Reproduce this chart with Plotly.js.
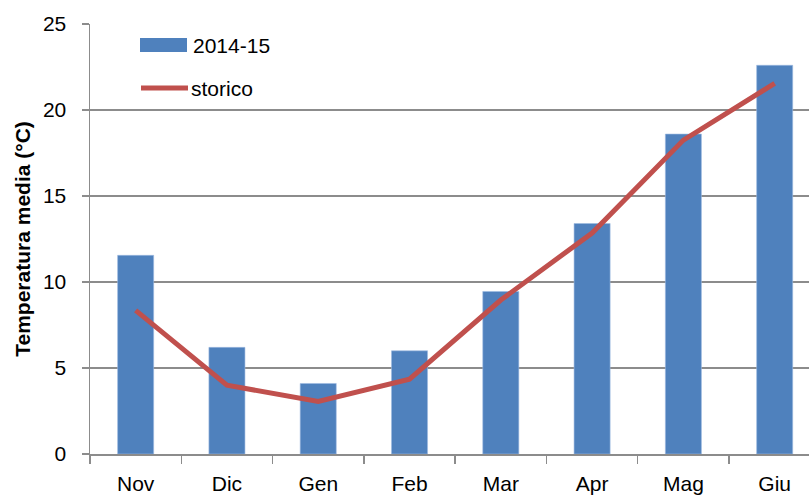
<!DOCTYPE html>
<html>
<head>
<meta charset="utf-8">
<script src="https://cdn.plot.ly/plotly-3.0.1.min.js"></script>
<style>html,body{margin:0;padding:0;background:#fff;}#chart{width:809px;height:495px;}</style>
</head>
<body>
<div id="chart"></div>
<script>
const months = ["Nov", "Dic", "Gen", "Feb", "Mar", "Apr", "Mag", "Giu"];
const season2014_15 = [11.55, 6.2, 4.1, 6.0, 9.45, 13.4, 18.6, 22.6];
const storico = [8.35, 4.0, 3.05, 4.35, 8.95, 12.85, 18.25, 21.55];
const seriesNames = ["2014-15", "storico"];
const yTicks = [0, 5, 10, 15, 20, 25];

const W = 809, H = 495;
const mL = 90, mR = 0, mT = 24, mB = 41;
const pw = W - mL - mR, ph = H - mT - mB;
const px = v => (v - mL) / pw;
const py = v => (H - mB - v) / ph;

const font = "Liberation Sans, Arial, sans-serif";
const gray = "#8c8c8c";
const fs = 21;

const traces = [
  {
    type: "bar", x: months, y: season2014_15, name: seriesNames[0],
    marker: {color: "#4F81BD", line: {color: "#9dbbe0", width: 0.6}},
    showlegend: false, hoverinfo: "x+y"
  },
  {
    type: "scatter", mode: "lines", x: months, y: storico, name: seriesNames[1],
    line: {color: "#C0504D", width: 5}, showlegend: false
  }
];

const layout = {
  width: W, height: H,
  margin: {l: mL, r: mR, t: mT, b: mB, pad: 0},
  paper_bgcolor: "#fff", plot_bgcolor: "#fff",
  font: {family: font, size: fs, color: "#000"},
  bargap: 0.605,
  xaxis: {
    type: "category", range: [-0.5, 7.376],
    tickson: "boundaries", ticks: "outside", ticklen: 8, tickwidth: 1.5, tickcolor: gray,
    showline: true, linecolor: gray, linewidth: 1.5,
    showgrid: false, zeroline: false,
    tickfont: {family: font, size: fs, color: "#000"},
    ticklabelstandoff: 10, fixedrange: true
  },
  yaxis: {
    range: [0, 25], tickvals: yTicks, ticktext: yTicks.map(String),
    ticks: "outside", ticklen: 7, tickwidth: 1.5, tickcolor: gray,
    showline: true, linecolor: gray, linewidth: 1.5,
    showgrid: true, gridcolor: gray, gridwidth: 1.5, zeroline: false,
    tickfont: {family: font, size: fs, color: "#000"},
    ticklabelstandoff: 11,
    title: {text: "Temperatura media (°C)", font: {family: font, size: 21, color: "#000", weight: "bold"}, standoff: 6},
    fixedrange: true
  },
  shapes: [
    {type: "rect", xref: "paper", yref: "paper", x0: px(140), x1: px(187), y0: py(52), y1: py(38),
     fillcolor: "#4F81BD", line: {width: 0}},
    {type: "line", xref: "paper", yref: "paper", x0: px(141), x1: px(188), y0: py(88), y1: py(88),
     line: {color: "#C0504D", width: 5}}
  ],
  annotations: [
    {xref: "paper", yref: "paper", x: px(191), y: py(45), xanchor: "left", yanchor: "middle",
     text: seriesNames[0], showarrow: false, font: {family: font, size: fs, color: "#000"}},
    {xref: "paper", yref: "paper", x: px(189), y: py(88), xanchor: "left", yanchor: "middle",
     text: seriesNames[1], showarrow: false, font: {family: font, size: fs, color: "#000"}}
  ]
};

Plotly.newPlot("chart", traces, layout, {displayModeBar: false, staticPlot: true});
</script>
</body>
</html>
